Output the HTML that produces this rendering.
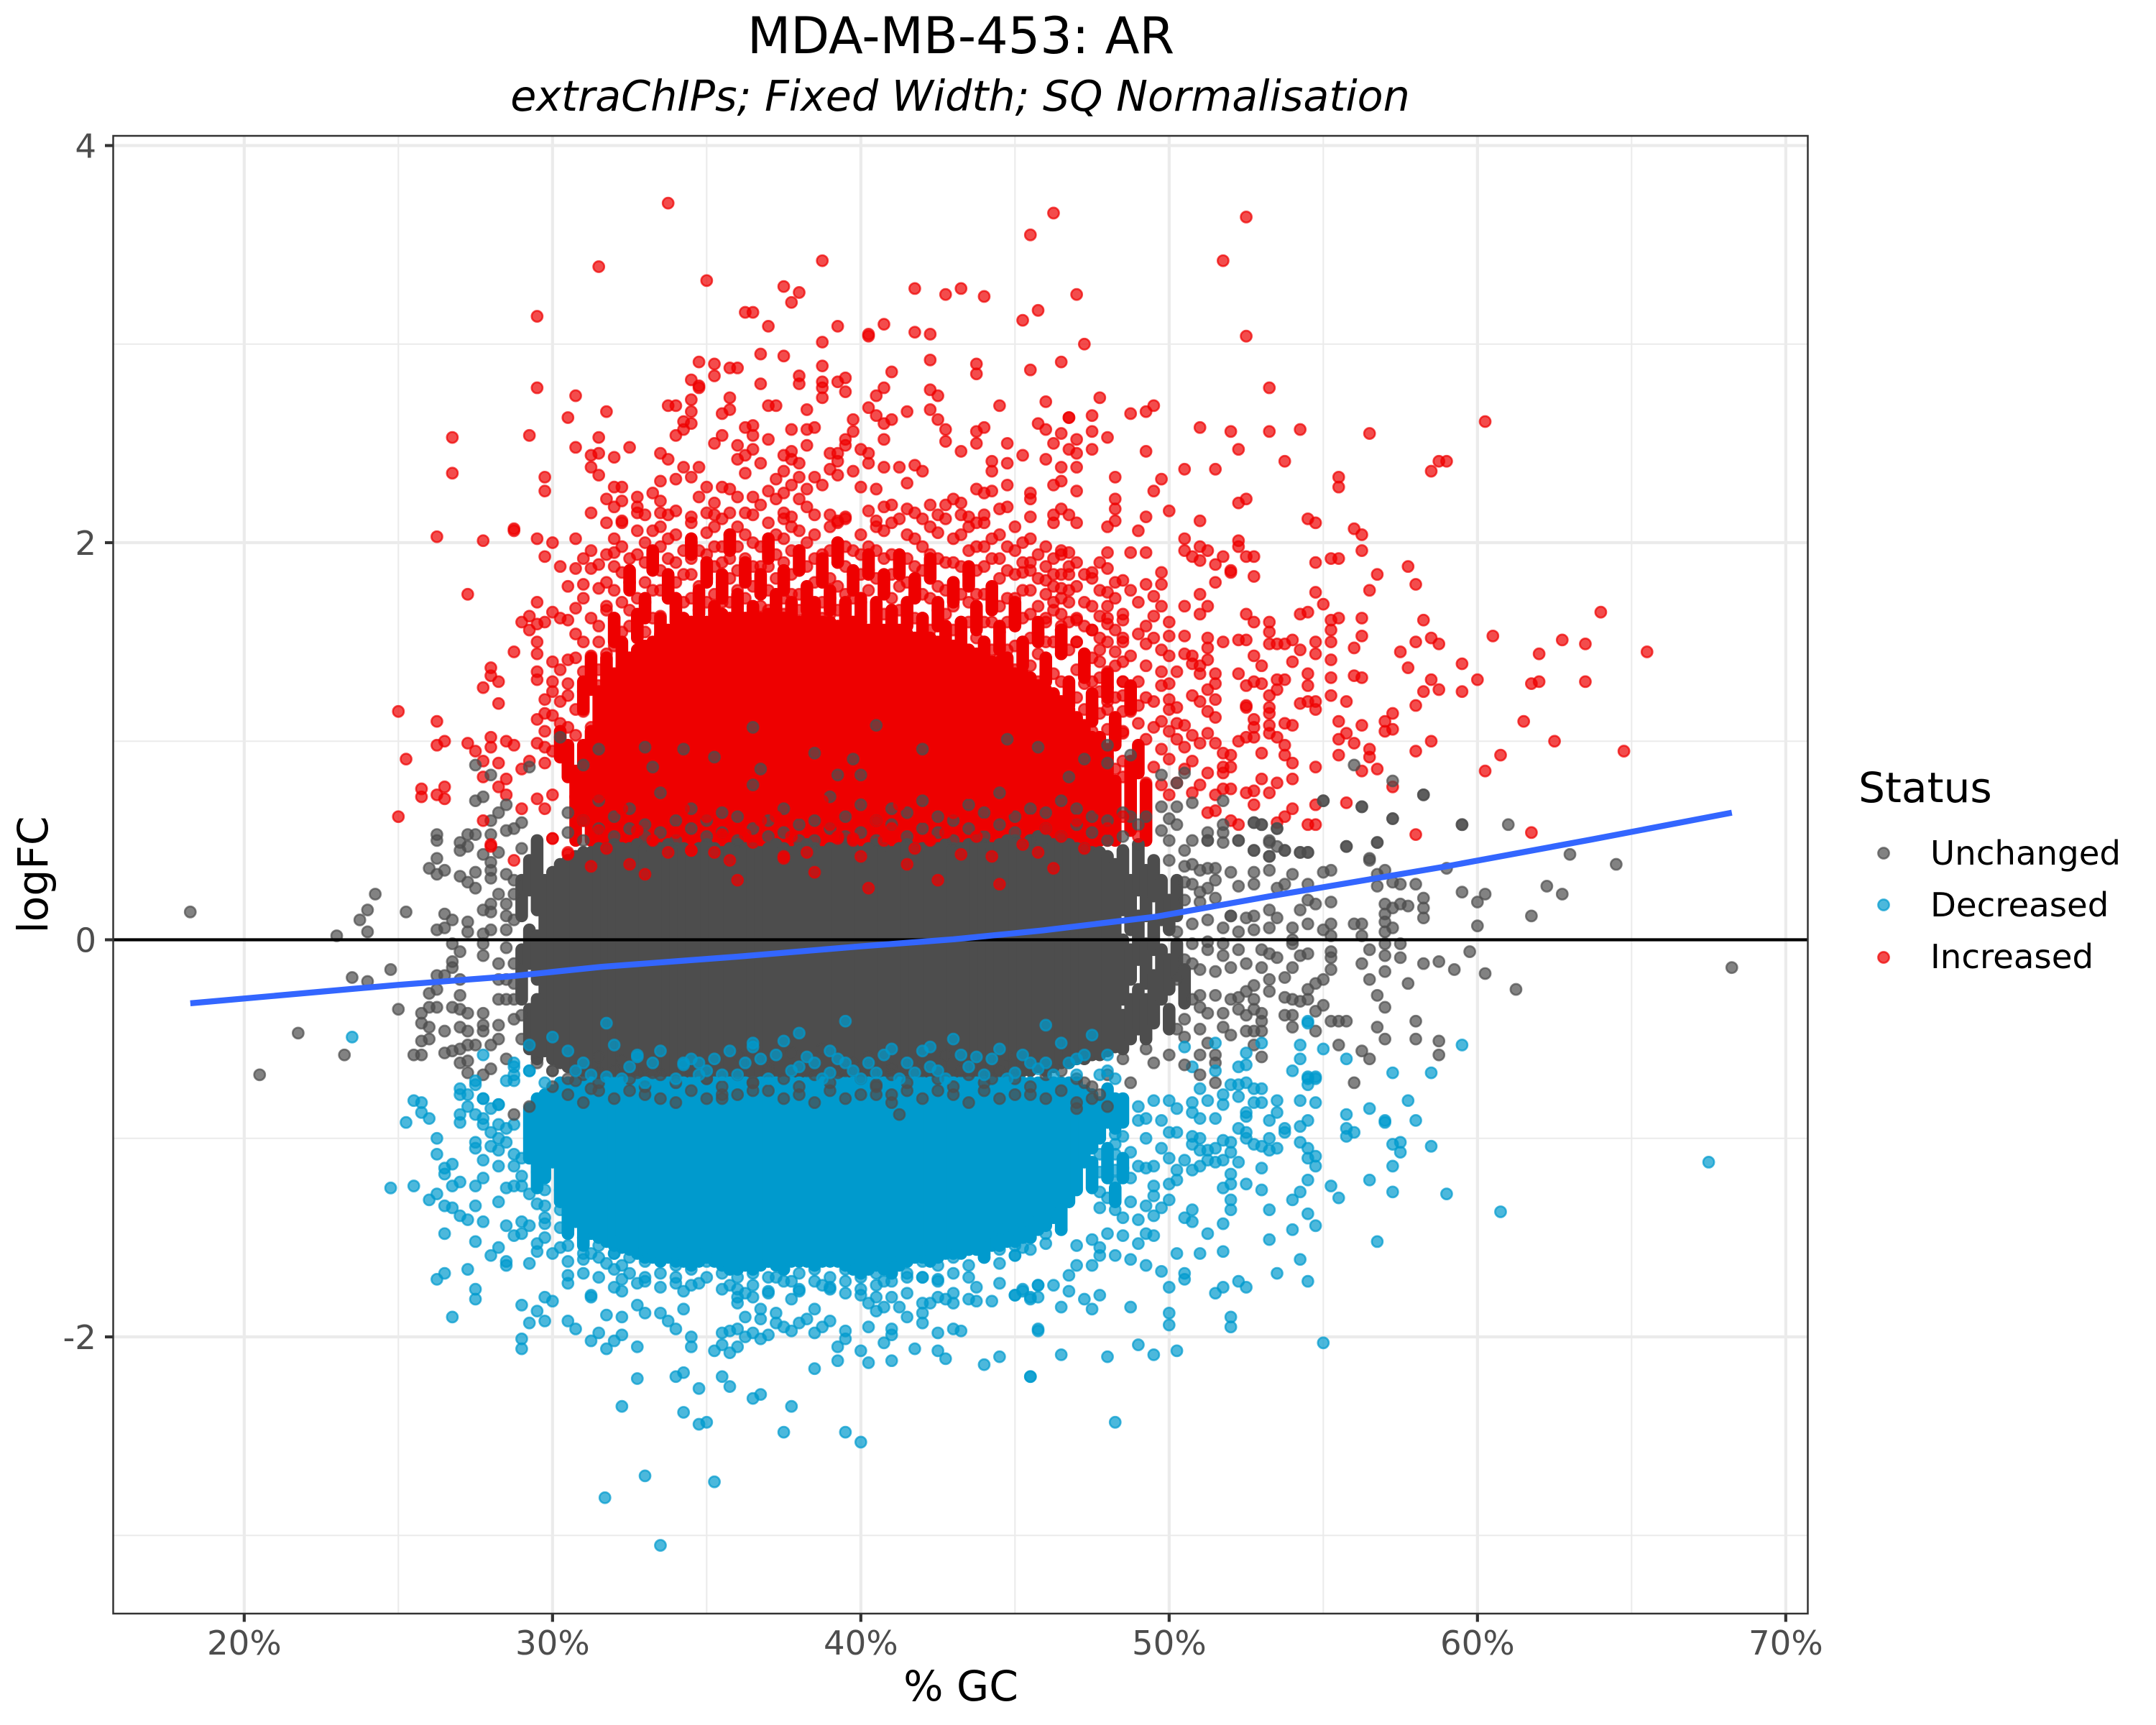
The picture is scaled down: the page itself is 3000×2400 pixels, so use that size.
<!DOCTYPE html>
<html lang="en">
<head>
<meta charset="utf-8">
<title>MDA-MB-453: AR</title>
<style>
html,body{margin:0;padding:0;background:#fff;}
svg{display:block;font-family:"DejaVu Sans","Liberation Sans",sans-serif;}
</style>
</head>
<body>
<svg id="chart" xmlns="http://www.w3.org/2000/svg" width="3000" height="2400" viewBox="0 0 3000 2400">
<rect x="0" y="0" width="3000" height="2400" fill="#fff"/>
<text x="1337" y="74" font-size="70" text-anchor="middle" fill="#000">MDA-MB-453: AR</text>
<text x="1336" y="154" font-size="58.7" font-style="italic" text-anchor="middle" fill="#000">extraChIPs; Fixed Width; SQ Normalisation</text>
<g id="grid"></g>
<g id="marks"></g>
<g id="overlay"></g>
<rect x="157.5" y="189" width="2358" height="2056" fill="none" stroke="#333333" stroke-width="2.5"/>
<g id="axes"></g>
<text x="1337" y="2366" font-size="58.3" text-anchor="middle" fill="#000">% GC</text>
<text transform="translate(66,1217) rotate(-90)" font-size="58.3" text-anchor="middle" fill="#000">logFC</text>
<g>
<text x="2586" y="1116" font-size="58.3" fill="#000">Status</text>
<circle cx="2621" cy="1187" r="7.6" fill="#4D4D4D" fill-opacity=".7" stroke="#4D4D4D" stroke-opacity=".7" stroke-width="2.6"/>
<text x="2686" y="1203" font-size="46.67" fill="#000">Unchanged</text>
<circle cx="2621" cy="1259" r="7.6" fill="#009ACD" fill-opacity=".7" stroke="#009ACD" stroke-opacity=".7" stroke-width="2.6"/>
<text x="2686" y="1275" font-size="46.67" fill="#000">Decreased</text>
<circle cx="2621" cy="1332" r="7.6" fill="#EE0000" fill-opacity=".7" stroke="#EE0000" stroke-opacity=".7" stroke-width="2.6"/>
<text x="2686" y="1347" font-size="46.67" fill="#000">Increased</text>
</g>
</svg>
<script>
/* ---------- axis data ---------- */
const xMajorTicks=[20,30,40,50,60,70];
const xTickLabels=["20%","30%","40%","50%","60%","70%"];
const xMinorTicks=[25,35,45,55,65];
const yMajorTicks=[4,2,0,-2];
const yTickLabels=["4","2","0","-2"];
const yMinorTicks=[3,1,-1,-3];

/* ---------- smooth trend ---------- */
const smoothGC=[18.25,25,28.65,31.6,36,40,43,45.9,49.6,53.3,59,63.7,68.25];
const smoothLogFC=[-0.32,-0.227,-0.184,-0.136,-0.085,-0.033,0.002,0.047,0.117,0.22,0.37,0.505,0.64];

/* ---------- saturated overplotted bands: one GC column every 0.25%, upper and lower logFC ---------- */
const increasedBandGC=[31.5,31.75,32,32.25,32.5,32.75,33,33.25,33.5,33.75,34,34.25,34.5,34.75,35,35.25,35.5,35.75,36,36.25,36.5,36.75,37,37.25,37.5,37.75,38,38.25,38.5,38.75,39,39.25,39.5,39.75,40,40.25,40.5,40.75,41,41.25,41.5,41.75,42,42.25,42.5,42.75,43,43.25,43.5,43.75,44,44.25,44.5,44.75,45,45.25,45.5,45.75,46,46.25,46.5,46.75,47,47.25,47.5];
const increasedBandTop=[1.25,1.30,1.34,1.38,1.42,1.46,1.48,1.50,1.54,1.56,1.56,1.58,1.60,1.62,1.60,1.62,1.64,1.62,1.64,1.62,1.60,1.62,1.64,1.62,1.62,1.60,1.60,1.62,1.62,1.60,1.60,1.58,1.60,1.60,1.58,1.56,1.58,1.56,1.54,1.56,1.54,1.52,1.54,1.52,1.50,1.50,1.48,1.46,1.46,1.44,1.42,1.40,1.40,1.38,1.34,1.34,1.30,1.28,1.26,1.22,1.20,1.16,1.12,1.08,1.02];
const increasedBandFloor=[.42];

const unchangedBandGC=[29.75,30,30.25,30.5,30.75,31,31.25,31.5,31.75,32,32.25,32.5,32.75,33,33.25,33.5,33.75,34,34.25,34.5,34.75,35,35.25,35.5,35.75,36,36.25,36.5,36.75,37,37.25,37.5,37.75,38,38.25,38.5,38.75,39,39.25,39.5,39.75,40,40.25,40.5,40.75,41,41.25,41.5,41.75,42,42.25,42.5,42.75,43,43.25,43.5,43.75,44,44.25,44.5,44.75,45,45.25,45.5,45.75,46,46.25,46.5,46.75,47,47.25,47.5,47.75,48,48.25];
const unchangedBandTop=[.30,.34,.38,.40,.42,.44,.44,.46,.46,.48,.46,.46,.48,.46,.44,.46,.48,.46,.46,.44,.46,.48,.46,.44,.46,.48,.46,.46,.44,.46,.48,.46,.44,.46,.48,.46,.44,.46,.46,.48,.46,.44,.46,.48,.46,.44,.46,.48,.46,.46,.44,.46,.48,.46,.46,.48,.50,.48,.46,.48,.50,.50,.48,.50,.52,.50,.48,.50,.48,.46,.46,.44,.44,.42,.38];
const unchangedBandBottom=[-.56,-.60,-.62,-.64,-.66,-.66,-.68,-.68,-.70,-.68,-.70,-.72,-.70,-.70,-.72,-.70,-.68,-.70,-.72,-.70,-.70,-.68,-.70,-.72,-.70,-.70,-.68,-.70,-.72,-.70,-.68,-.70,-.72,-.70,-.68,-.70,-.72,-.70,-.70,-.68,-.70,-.72,-.70,-.68,-.70,-.72,-.70,-.68,-.70,-.70,-.68,-.70,-.72,-.70,-.68,-.70,-.68,-.68,-.70,-.68,-.66,-.68,-.66,-.66,-.64,-.66,-.64,-.62,-.62,-.60,-.60,-.58,-.58,-.56,-.54];

const decreasedBandGC=[30.25,30.5,30.75,31,31.25,31.5,31.75,32,32.25,32.5,32.75,33,33.25,33.5,33.75,34,34.25,34.5,34.75,35,35.25,35.5,35.75,36,36.25,36.5,36.75,37,37.25,37.5,37.75,38,38.25,38.5,38.75,39,39.25,39.5,39.75,40,40.25,40.5,40.75,41,41.25,41.5,41.75,42,42.25,42.5,42.75,43,43.25,43.5,43.75,44,44.25,44.5,44.75,45,45.25,45.5,45.75,46,46.25,46.5,46.75,47];
const decreasedBandBottom=[-1.32,-1.38,-1.42,-1.46,-1.48,-1.50,-1.52,-1.54,-1.55,-1.56,-1.58,-1.60,-1.60,-1.62,-1.60,-1.62,-1.62,-1.64,-1.62,-1.60,-1.62,-1.64,-1.66,-1.66,-1.64,-1.66,-1.64,-1.62,-1.64,-1.66,-1.62,-1.62,-1.62,-1.64,-1.62,-1.62,-1.62,-1.64,-1.66,-1.68,-1.66,-1.64,-1.66,-1.68,-1.64,-1.62,-1.60,-1.60,-1.62,-1.60,-1.58,-1.58,-1.58,-1.56,-1.56,-1.54,-1.54,-1.54,-1.52,-1.52,-1.50,-1.48,-1.46,-1.44,-1.40,-1.36,-1.32,-1.26];
const decreasedBandCeiling=[-.72];

/* ---------- short overplotted runs: [GC, upper logFC, lower logFC] ---------- */
const increasedRuns=[[31.75,1.42,1.3],[32,1.62,1.5],[32.25,1.5,1.38],[32.5,1.86,1.76],[32.75,1.64,1.52],[33,1.72,1.62],[33.25,1.96,1.86],[33.5,1.62,1.5],[33.75,1.84,1.72],[34,1.72,1.6],[34.25,1.62,1.5],[34.5,2.02,1.94],[34.75,1.76,1.64],[35,1.9,1.8],[35.25,1.68,1.58],[35.5,1.84,1.72],[35.75,2.04,1.96],[36,1.74,1.62],[36.25,1.9,1.8],[36.5,1.68,1.58],[36.75,1.84,1.74],[37,2.02,1.92],[37.25,1.74,1.62],[37.5,1.86,1.76],[37.75,1.7,1.6],[38,1.96,1.86],[38.25,1.78,1.66],[38.5,1.7,1.6],[38.75,1.92,1.8],[39,1.76,1.66],[39.25,2,1.9],[39.5,1.7,1.6],[39.75,1.86,1.76],[40,1.72,1.6],[40.25,1.94,1.84],[40.5,1.7,1.58],[40.75,1.84,1.74],[41,1.66,1.56],[41.25,1.94,1.84],[41.5,1.7,1.58],[41.75,1.82,1.72],[42,1.62,1.5],[42.25,1.92,1.82],[42.5,1.7,1.58],[42.75,1.58,1.46],[43,1.8,1.7],[43.25,1.6,1.48],[43.5,1.88,1.78],[43.75,1.68,1.56],[44,1.5,1.38],[44.25,1.78,1.66],[44.5,1.58,1.46],[44.75,1.42,1.3],[45,1.7,1.58],[45.25,1.5,1.38],[45.5,1.32,1.2],[45.75,1.6,1.5],[46,1.42,1.3],[46.25,1.24,1.12],[46.5,1.56,1.44],[46.75,1.3,1.18],[47,1.1,.98],[47.25,1.44,1.32],[47.5,1.24,1.1],[47.75,1.02,.5],[48,1.34,1.22],[48,.96,.5],[48.25,1.12,.98],[48.25,.8,.5],[48.75,1.28,1.16],[48.75,.9,.55],[49,.98,.84],[49.25,.78,.5],[31.25,1.42,1.26],[31,1.3,1.16],[30.5,.98,.82],[31.25,1.05,.5],[30.75,.85,.5],[30.25,1.05,.92],[31,.98,.6]];

const unchangedRuns=[[29,.3,.12],[29,-.05,-.3],[29.25,.4,.25],[29.25,.05,-.12],[29.25,-.35,-.55],[29.5,.5,.15],[29.5,.02,-.2],[29.5,-.3,-.6],[48.5,.45,.15],[48.5,0,-.3],[48.5,-.38,-.55],[48.75,.3,.05],[48.75,-.05,-.2],[48.75,-.3,-.5],[49,.48,.25],[49,.12,-.1],[49,-.25,-.45],[49.25,.35,.12],[49.25,-.02,-.22],[49.25,-.3,-.5],[49.5,.4,.22],[49.5,.08,-.05],[49.5,-.18,-.42],[49.75,.3,.1],[49.75,-.05,-.3],[50,.2,.05],[50,-.1,-.25],[50,-.35,-.45],[50.25,.3,.12],[50.25,-.02,-.18],[50.5,-.15,-.32]];

const decreasedRuns=[[29.25,-.85,-1.1],[29.5,-.8,-1.05],[29.5,-1.1,-1.25],[29.75,-.78,-1.2],[30,-.76,-1.12],[47.25,-.76,-1.12],[47.5,-.78,-1.05],[47.5,-1.12,-1.25],[47.75,-.82,-1],[48,-.75,-.92],[48,-1.05,-1.2],[48.25,-.8,-.95],[48.25,-1.25,-1.32],[48.5,-.8,-.92],[48.5,-1.1,-1.2],[30.5,-1.36,-1.48],[31,-1.46,-1.54],[46.5,-1.36,-1.46],[45.5,-1.42,-1.5],[44,-1.5,-1.6]];

/* ---------- individually read points: [GC, logFC] ---------- */
const increasedUpperLeft=[[33.75,3.71],[31.5,3.39],[35,3.32],[29.5,3.14],[38.75,3.42],[37.5,3.29],[38,3.26],[37.75,3.21],[36.25,3.16],[36.5,3.16],[37,3.09],[39.25,3.09],[38.75,3.01],[40.25,3.04],[40.25,3.05],[40.75,3.1],[41.75,3.28],[42.75,3.25],[43.25,3.28],[44,3.24],[46.25,3.66],[45.5,3.55],[41.75,3.06],[42.25,3.05],[45.25,3.12],[45.75,3.17],[42.25,2.92],[43.75,2.9],[43.75,2.85],[45.5,2.87],[46.5,2.91],
[29.5,2.78],[30.75,2.74],[31.75,2.66],[30.5,2.63],[26.75,2.53],[29.25,2.54],[31.5,2.53],[30.75,2.48],[32.5,2.48],[31.5,2.45],[31.25,2.44],[32,2.43],[31.25,2.38],[31.5,2.34],[26.75,2.35],[29.75,2.33],[29.75,2.26],[34.75,2.91],[35.25,2.9],[35.75,2.88],[36,2.88],[35.25,2.84],[34.5,2.82],[34.75,2.78],[34.75,2.79],[34.5,2.72],[33.75,2.69],[34,2.69],[34.5,2.66],[34.25,2.61],[34.5,2.6],[34.25,2.57],[34,2.54],[35.75,2.73],[35.75,2.67],[35.5,2.65],[36.75,2.95],[37.5,2.94],[36.75,2.8],[38,2.84],[38,2.8],[38.75,2.89],[38.75,2.81],[38.75,2.78],[38.75,2.73],[39.25,2.81],[39.5,2.83],[39.5,2.76],[41,2.86],[40.75,2.78],[40.5,2.74],[40.25,2.68],[40.5,2.64],[40.75,2.6],[41,2.62],[41.5,2.66],[42.25,2.77],[42.5,2.74],[42.25,2.67],[42.5,2.62],[42.75,2.57],[42.75,2.51],[44.5,2.69],[46,2.71],[43.75,2.56],[44,2.58],[43.75,2.5],[44.75,2.5],[45.75,2.6],[46,2.57],[46.5,2.55],[46.75,2.63],[37,2.69],[37.25,2.69],[38.25,2.67],[36.25,2.58],[36.5,2.59],[36.5,2.54],[37.75,2.57],[38.25,2.57],[38.5,2.58],[37,2.52],[35.5,2.54],[35.25,2.5],[36,2.49],[36.5,2.47],[38.25,2.49],[39.75,2.62],[39.75,2.56],[39.5,2.52],[39.5,2.49],[40.75,2.52],[40,2.47],[40.25,2.45],[39,2.45],[39.25,2.45],[37.75,2.46],[37.5,2.44],[37.75,2.42],[36.25,2.44],[36,2.42],[36.75,2.4],[38,2.4],[39.25,2.41],[40.25,2.4],[40.75,2.38],[41.25,2.38],[41.75,2.39],[42,2.36],[43.25,2.46],[44.25,2.41],[44.75,2.4],[45.25,2.44],[46,2.42],[33.5,2.45],[33.75,2.42],[34.75,2.38],[34.25,2.38],[34.5,2.33],[34,2.32],[33.5,2.31],[36.25,2.35],[37.5,2.36],[37.25,2.32],[38,2.33],[38.5,2.33],[37.75,2.29],[38.75,2.29],[38.25,2.27],[39,2.37],[39.75,2.36],[39.25,2.34],[40,2.28],[40.5,2.27],[41.5,2.3],[43.75,2.27],[44.25,2.36],[44.75,2.29],[44.25,2.26],[45.5,2.25],[44,2.25],[46.25,2.29],[32,2.28],[32.25,2.28],[33.25,2.25],[32.75,2.23],[35,2.28],[35.5,2.28],[35.75,2.27],[34.75,2.23],[35.25,2.2],[36,2.23],[36.5,2.23],[37,2.26],[37.5,2.25],[38,2.22],[38.25,2.18],[31.75,2.22],[32.25,2.21],[32.75,2.18],[33.5,2.21],[32,2.18],[31.25,2.15],[32.75,2.15],[33.5,2.15],[34.5,2.13],[33.75,2.14],[31.75,2.1],[32.25,2.11],[35.25,2.14],[35.75,2.15],[36.25,2.15],[36.75,2.19],[37.25,2.22],[37.5,2.15],[37.75,2.13],[39,2.14],[39.5,2.13],[40.25,2.16],[40.75,2.18],[41,2.19],[41.5,2.17],[42.25,2.19],[42.75,2.19],[43,2.22],[43.25,2.2],[41.75,2.15],[42.5,2.14],[43.25,2.14],[43.5,2.13],[44.5,2.17],[44.75,2.18],[44,2.1],[45.5,2.13],[46.5,2.17],[46.75,2.14],[40.5,2.11],[39.25,2.11],[28.75,2.07]];

const increasedUpperRight=[[52.5,3.64],[51.75,3.42],[47,3.25],[52.5,3.04],[47.25,3],[53.25,2.78],[47.75,2.73],[49.5,2.69],[49.25,2.66],[48.75,2.65],[46.75,2.63],[47.5,2.64],[51,2.58],[52,2.56],[53.25,2.56],[54.25,2.57],[56.5,2.55],[60.25,2.61],[47.5,2.56],[48,2.53],[47,2.52],[46.25,2.5],[46.75,2.47],[47,2.45],[47.5,2.47],[49.25,2.46],[52.25,2.47],[53.75,2.41],[50.5,2.37],[51.5,2.37],[47,2.38],[46.5,2.38],[48.25,2.33],[49.75,2.32],[49.5,2.26],[47,2.26],[46.5,2.31],[55.5,2.33],[55.5,2.28],[58.5,2.36],[58.75,2.41],[59,2.41],[52.5,2.22],[52.25,2.2],[45.5,2.22],[48.25,2.22],[48.25,2.17],[50,2.16],[49.25,2.13],[48.25,2.11],[51,2.11],[54.5,2.12],[54.75,2.1],[46.25,2.14],[47,2.1],[48,2.08],[46.25,2.1],
[49,2.06],[50.5,2.02],[52.25,2.01],[52.25,1.98],[50.5,1.96],[51,1.98],[51.25,1.96],[50.75,1.93],[51,1.91],[51.5,1.89],[51.75,1.93],[52.5,1.93],[52.75,1.93],[52,1.85],[52,1.86],[52.75,1.83],[51.5,1.8],[54.75,1.9],[55.25,1.92],[55.5,1.92],[56,2.07],[56.25,2.04],[56.25,1.96],[57.75,1.88],[56.75,1.84],[58,1.79],[56.5,1.76],[54.75,1.75],[55,1.69],[51,1.74],[50.5,1.68],[51.25,1.68],[51,1.64],[52.5,1.64],[52.75,1.6],[54.25,1.64],[54.5,1.65],[55.25,1.61],[55.5,1.62],[56.25,1.62],[58.25,1.61],[53.25,1.6],[53.25,1.55],[64,1.65],[55.25,1.56],[56.25,1.53],[60.5,1.53],[62.75,1.51],[63.5,1.49],[65.5,1.45],[58.5,1.52],[58.75,1.49],[58,1.5],[62,1.44],[57.5,1.45],[56,1.47],[55.25,1.5],[54.75,1.5],[54.75,1.44],[55.25,1.41],[54,1.51],[53.75,1.49],[53.5,1.49],[53.25,1.49],[54.25,1.46],[54,1.4],[52.75,1.43],[53,1.38],[52.5,1.51],[52.25,1.51],[51.75,1.5],[51.25,1.52],[51.25,1.47],[51.25,1.41],[50.5,1.53],[50.5,1.44],[50.75,1.43],[50.75,1.39],[51,1.38],[51,1.34],[51.5,1.34],[51.5,1.29],[57.75,1.37],[59.5,1.39],[58.5,1.31],[58.75,1.26],[58.25,1.25],[59.5,1.25],[60,1.31],[61.75,1.29],[62,1.3],[63.5,1.3],[58,1.18],[57.25,1.14],[57,1.1],[57.25,1.06],[57,1.05],[56.25,1.08],[55.5,1.1],[55.75,1.2],[55.25,1.23],[55.25,1.32],[56,1.33],[56.25,1.32],[54.5,1.34],[54.5,1.28],[53.5,1.31],[53.75,1.31],[52.5,1.28],[52.75,1.3],[53,1.29],[52.25,1.34],[53.5,1.26],[53.25,1.23],[53.25,1.17],[52.5,1.17],[52.5,1.18],[54.25,1.19],[54.5,1.2],[54.75,1.2],[54.75,1.16],[51.25,1.26],[50.75,1.23],[51.5,1.21],[51,1.2],[51.25,1.15],[51.5,1.12],[53.25,1.14],[52.75,1.11],[52.75,1.07],[53.25,1.08],[53.75,1.09],[54,1.08],[55.75,1.04],[55.5,1.01],[56,.99],[56.5,.96],[56.5,.92],[55.5,.93],[56.75,.86],[56.25,.85],[58,.95],[58.5,1],[61.5,1.1],[62.5,1],[64.75,.95],[60.75,.93],[60.25,.85],[57.25,.77],[55.75,.69],[54.75,.68],[54,.66],[53.75,.62],[53.5,.59],[54.5,.58],[54.75,.58],[58,.53],[61.75,.54],[53,.81],[53.5,.79],[54,.81],[54,.89],[54.75,.87],[53.75,.93],[53.75,.98],[53.5,1.02],[53,.94],[52,.93],[51.75,.94],[52,.87],[51.75,.87],[51.75,.84],[51.25,.84],[51.5,.99],[51,.99],[51.25,1.04],[50.75,1.03],[52.25,1],[52.5,1.02],[52.75,1.02],[53.25,1.04],[52.75,.75],[52.5,.74],[53.25,.74],[52,.76],[51.75,.76],[51.5,.73],[51,.78],[50.75,.74],[52.75,.68],[51.5,.65],[51.25,.64],[52.25,.58],[52,.6]];

const increasedMidRight=[[49.75,1.85],[49.75,1.79],[49.25,1.79],[48.5,1.81],[48.25,1.8],[48.75,1.76],[49,1.7],[49.5,1.73],[49.75,1.68],[48,1.87],[47.5,1.85],[48.75,1.95],[49.25,1.95],[48,1.95],[46.75,1.95],[46.5,1.94],[46.75,1.88],[46.75,1.84],[46.25,1.84],[46,1.81],[46.5,1.77],[45.5,1.9],[45.25,1.85],[47.75,1.76],[48,1.68],[48.25,1.72],[48.5,1.64],[48.5,1.61],[49.5,1.63],[49.25,1.58],[50,1.6],[50,1.53],[49,1.54],[48.5,1.52],[48,1.59],[47.75,1.63],[47.25,1.7],[46.75,1.7],[46.25,1.7],[46.5,1.64],[46,1.6],[46.5,1.56],[47,1.61],[47.5,1.56],[47.75,1.52],[45.75,1.54],[47,1.5],[48.25,1.45],[48.75,1.43],[49.25,1.49],[49.5,1.52],[49.75,1.46],[50,1.43],[49.25,1.38],[48.5,1.4],[47.75,1.4],[47.25,1.38],[49.75,1.35],[50.25,1.35],[50,1.29],[49.75,1.28],[49,1.3],[48.5,1.3],[48,1.27],[47.25,1.29],[47.75,1.25],[48.5,1.23],[49.25,1.22],[49.5,1.2],[50,1.21],[50.25,1.17],[49,1.18],[50,1.16],[48.75,1.15],[48,1.16],[49,1.09],[49.75,1.1],[50.25,1.09],[50.5,1.08],[49.5,1.07],[50,1.05],[48.5,1.04],[50.25,1.01],[49.25,1.01],[49.75,.96],[50.5,.97],[50.75,.9],[50,.91],[50.5,.86],[49.5,.87],[49.25,.79],[49.75,.78],[50.25,.79],[50,.73]];

const increasedLeftEdge=[[26.25,2.03],[27.75,2.01],[28.75,2.06],[29.5,2.02],[30,2],[29.75,1.93],[30.75,2.02],[30.25,1.88],[30.75,1.87],[31,1.92],[31.25,1.96],[31.5,1.89],[31.25,1.87],[27.25,1.74],[30.5,1.78],[31,1.79],[29.5,1.7],[30.75,1.67],[31,1.72],[31.75,1.68],[31.5,1.77],[29,1.6],[29.25,1.63],[29.25,1.56],[29.5,1.59],[29.75,1.6],[30,1.65],[30.25,1.62],[30.5,1.61],[31.25,1.62],[30.75,1.54],[29.5,1.5],[31,1.5],[28.75,1.45],[29.5,1.44],[30,1.4],[30.5,1.41],[30.75,1.42],[30.25,1.36],[28,1.37],[28,1.33],[28.25,1.3],[27.75,1.27],[28.25,1.19],[29.5,1.35],[29.5,1.31],[30,1.3],[30.5,1.29],[31,1.35],[31.25,1.43],[31,1.25],[30.5,1.23],[30.25,1.2],[30,1.25],[29.75,1.21],[25,1.15],[26.25,1.1],[26.25,.98],[26.5,1],[25.25,.91],[27.25,.99],[27.5,.95],[28,1.02],[28,.97],[28.5,1],[28.75,.98],[29.5,.99],[29.75,.97],[30,.95],[29.5,1.11],[29.75,1.14],[30,1.13],[30.75,1.16],[31,1.15],[30.25,1.09],[30.5,1.07],[29.75,1.05],[31.25,1.07],[30.75,1.03],[30.25,.92],[30.5,.88],[29.75,.89],[29.25,.9],[29,.86],[28.5,.81],[28.25,.89],[27.75,.9],[27.75,.82],[28.25,.77],[28.5,.73],[25.75,.76],[25.75,.72],[26.25,.73],[26.5,.77],[26.5,.71],[25,.62],[29,.66],[29.5,.71],[29.75,.66],[30,.73],[30.75,.82],[31.25,.82],[30.75,.72],[31.25,.68]];

/* semi-dense red cloud read column by column */
const increasedStackGC=[31.5,32,32.25,32.5,32.75,33,33.5,33.75,34,34.5,34.75,35,35.5,36,36.25,36.5,37,37.25,37.5,38,38.25,38.5,39,39.5,40,40.25,40.5,41,41.5,42,42.5,43,43.5,44,44.5,45,45.5,46,46.5,47,47.5,48,48.5];
const increasedStackLogFC=[[1.58,1.5,1.36,1.28],[2.02,1.95,1.88,1.76,1.62,1.48],[2.1,1.98,1.85,1.7,1.55],[1.92,1.8,1.66,1.58],[2.06,1.94,1.72,1.6],[2.14,2,1.9,1.8,1.7,1.55],[2.08,1.98,1.86,1.76,1.63],[2.02,1.92,1.72],[2.16,2.04,1.9,1.8,1.68,1.58],[2.1,2,1.92,1.84,1.72,1.6],[1.96,1.78,1.66],[2.15,2.05,1.94,1.82,1.7],[2.12,1.98,1.9,1.8,1.7,1.64],[2.08,1.98,1.86,1.76,1.68],[2.04,1.92,1.82,1.72],[2.14,2,1.88,1.78],[2.1,1.98,1.88,1.76,1.66],[2.04,1.94,1.82],[2.12,2.02,1.9,1.72,1.64],[2.06,1.96,1.86,1.74,1.66],[2,1.88,1.76],[2.14,2.04,1.92,1.8,1.68],[2.08,1.96,1.82,1.72,1.64],[2.12,1.98,1.88,1.74,1.62],[2.04,1.94,1.84,1.7,1.6],[1.98,1.86,1.76],[2.08,1.96,1.82,1.66,1.56],[2.1,1.94,1.84,1.72,1.58],[2.04,1.92,1.8,1.68,1.54],[2.12,1.98,1.86,1.74,1.62,1.52],[2.05,1.92,1.78,1.66,1.46],[2.02,1.9,1.8,1.68,1.56,1.42],[2.08,1.96,1.84,1.7,1.6,1.44],[2.14,1.98,1.88,1.74,1.6,1.5,1.38],[2.04,1.92,1.82,1.68,1.55,1.42,1.32],[2.08,1.96,1.84,1.72,1.6,1.48,1.36,1.26],[2.02,1.86,1.76,1.64,1.52,1.38,1.28],[1.98,1.88,1.74,1.62,1.5,1.36,1.22],[1.96,1.84,1.72,1.58,1.44,1.3,1.2,1.1],[1.9,1.78,1.62,1.5,1.36,1.22,1.1,1],[1.82,1.68,1.56,1.42,1.3,1.18,1.05,.95],[1.75,1.62,1.5,1.35,1.2,1.06,.92],[1.5,1.3,1.15,1.05,.9,.82]];
const increasedInfillGC=[31.75,33.25,34.25,35.25,35.75,36.75,37.75,38.75,39.25,39.75,40.75,41.25,41.75,42.25,42.75,43.25,43.75,44.25,44.75,45.25,45.75,46.25,46.75,47.25,47.75,48.25];
const increasedInfillLogFC=[[1.94,1.8,1.66,1.44],[2.06,1.94,1.76,1.62],[1.96,1.84,1.7,1.6],[2.08,1.98,1.88,1.74,1.66],[2.04,1.92,1.82,1.7],[1.98,1.88,1.76,1.68],[2.08,1.96,1.84,1.74],[1.94,1.82,1.7,1.62],[2.1,2,1.9,1.78,1.66],[1.96,1.84,1.72,1.6],[2.06,1.92,1.82,1.64],[2.12,1.9,1.78,1.66],[2.02,1.88,1.74,1.62],[2.08,1.94,1.72,1.56],[2.12,1.9,1.76,1.64,1.5],[2.04,1.88,1.74,1.6,1.46],[2.1,1.98,1.86,1.74,1.52],[2.02,1.92,1.6,1.46,1.34],[1.98,1.86,1.72,1.6,1.46,1.3],[2,1.9,1.76,1.62,1.5,1.32,1.2],[1.94,1.82,1.68,1.44,1.3,1.16],[1.92,1.78,1.66,1.5,1.34,1.14,1.04],[1.76,1.6,1.46,1.24,1.02,.9],[1.84,1.58,1.44,1.16,.96,.84],[1.9,1.46,1.32,1.14,.98,.8],[1.56,1.38,1.22,1,.86]];

const unchangedLeftEdge=[[18.25,.14],[24.25,.23],[24,.15],[23.75,.1],[24,.04],[23,.02],[25.25,.14],[26.5,.13],[26.75,.1],[27.25,.09],[26.5,.06],[26.25,.05],[27.25,.04],[27.75,.03],[26.75,-.02],[27,-.06],[27.75,-.02],[27.75,-.08],[26.75,-.11],[26.75,-.14],[24.75,-.15],[23.5,-.19],[24,-.21],[26.25,-.18],[26.5,-.18],[27,-.2],[26.25,-.25],[26,-.27],[27,-.28],[25,-.35],[26,-.34],[26.25,-.34],[26.75,-.34],[25.75,-.37],[25.75,-.42],[26,-.44],[27,-.35],[27.25,-.37],[27,-.44],[27.25,-.46],[26.5,-.46],[26,-.5],[25.75,-.51],[21.75,-.47],[23.25,-.58],[20.5,-.68],[25.5,-.58],[25.75,-.58],[26.5,-.57],[26.75,-.56],[27,-.55],[27.25,-.53],[27.5,-.53],[27,-.62],[27.25,-.61],[27.25,-.67],[27.75,-.68],[28,-.65],[28,-.53],[27.75,-.46],[27.75,-.43],[28.25,-.43],[27.75,-.37],[28.25,-.3],[28.5,-.2],[28.25,-.12],[28.5,-.04],[28.75,-.4],[28.75,-.12],[28.25,-.5],[28.5,-.6],
[26.25,.53],[26.25,.5],[27,.49],[27,.45],[27.25,.47],[26.25,.41],[26,.36],[26.25,.33],[26.5,.35],[27,.32],[27.25,.29],[27.5,.34],[27.5,.26],[27.25,.53],[27.5,.53],[27.75,.43],[28,.53],[28.25,.44],[28,.39],[28.5,.55],[28.75,.56],[28.25,.64],[28.5,.68],[28,.6],[27.5,.7],[27.75,.72],[29,.59],[29,.46],[28,.35],[28,.31],[28.5,.33],[28.25,.23],[28,.18],[27.75,.15],[28,.14],[28.5,.18],[28.75,.23],[28.5,.12],[28.5,.05],[28.75,.3],[28.75,.1],[29,-.38],[29,-.5],[28.75,-.22],[28.75,-.3],[28.5,-.3],[28,.05],[28.25,-.2]];

const unchangedRightEdge=[[58.25,.73],[57.25,.61],[59.5,.58],[61,.58],[56.25,.67],[55,.7],[63,.43],[64.5,.38],[59,.36],[56.75,.49],[55.75,.47],[56.5,.4],[57,.35],[56.75,.33],[57.25,.29],[57.5,.28],[58,.28],[56.75,.27],[62.25,.27],[62.75,.23],[59.5,.24],[60.25,.23],[60,.19],[58.25,.21],[58.25,.16],[58.25,.11],[61.75,.12],[60,.07],[57,.18],[57.25,.16],[57.5,.18],[57.75,.17],[57,.13],[57,.09],[57.25,.06],[57,.04],[56,.08],[56.25,.08],[56.25,.02],[55.25,.08],[55,.05],[55.25,.02],[54.5,.08],[55.25,.19],[54.75,.18],[54.5,.2],[54.25,.15],[55,.34],[55.25,.35],[54.5,.28],[54,.33],[53.75,.28],[53.5,.26],[53.25,.35],[52.75,.34],[52,.34],[53.25,.42],[53.75,.45],[54.25,.44],[54.5,.44],[52.75,.45],[53.5,.47],[53.25,.5],[52.25,.5],[51.75,.49],[51.25,.5],[53.5,.56],[52.75,.59],[53,.58],[52.25,.27],[52.75,.28],[53.25,.15],[53.5,.11],[54,.06],[53.25,.06],[52.75,.05],[52.25,.04],[51.75,.06],[52.5,.11],[52.75,.12],[52,.12],[54,0],[55.25,-.06],[56.5,-.05],[57,-.02],[57.5,-.02],[57,-.08],[57.5,-.09],[55.25,-.09],[56.25,-.12],[58.25,-.12],[58.75,-.11],[59.75,-.06],[59.25,-.15],[60.25,-.17],[61.25,-.25],[68.25,-.14],[57.75,-.22],[56.5,-.2],[57,-.16],[55.25,-.15],[55,-.2],[54.75,-.22],[54.5,-.25],[56.75,-.28],[57,-.34],[58,-.41],[56.75,-.44],[57,-.5],[58,-.5],[58.75,-.51],[58.75,-.58],[56.25,-.56],[56.5,-.6],[55.5,-.53],[56,-.72],[55,-.33],[54.75,-.36],[55.25,-.41],[55.5,-.41],[55.75,-.41],[54.75,-.46],[54,-.44],[54,-.38],[53.75,-.38],[54,-.3],[54.25,-.31],[54.5,-.3],[53.75,-.29],[53.25,-.2],[53.75,-.19],[54,-.14],[53.5,-.09],[53.25,-.07],[54.5,-.07],[54.25,-.08],[54,-.02],[53,-.05],[53,-.14],[52.5,-.12],[52,-.14],[51.75,-.08],[52.25,-.05],[52.75,-.23],[53.25,-.26],[52.5,-.26],[52.25,-.29],[52,-.3],[52.75,-.3],[52.25,-.35],[51.75,-.37],[53,-.37],[52.75,-.35],[53,-.41],[52.5,-.38],[53,-.46],[52.75,-.46],[52.5,-.46],[52,-.48],[51.75,-.44],[52.75,-.53],[51.5,-.62],[51.5,-.58],[53,-.59],[51,-.58],[51.25,-.52],[50.5,-.49],[51.25,-.37],[51,-.34],[50.5,-.4],[51,-.28],[51.5,-.28],[51.5,-.16],[51,-.15],[50.75,-.12],[51.25,-.05],[50.75,-.02],[51.75,-.02],[51.25,-.01],
[51.5,.36],[51.25,.36],[51,.35],[50.5,.37],[50.75,.38],[51.5,.3],[51,.24],[51.25,.26],[50.5,.29],[50.75,.28],[50.5,.2],[51.5,.21],[51,.19],[52,.12],[51.25,.1],[50.75,.08],[50.25,.04],[50.25,-.2],[50.75,-.3],[50.5,-.1],[51,-.45],[50.25,-.45],[50,.4],[50,.5],[50.5,.45],[49.75,.55],[50.75,.5],[50.25,.58],
[49.75,.67],[50.25,.67],[50.75,.69],[51.75,.7],[49.25,.62],[50,.61],[56,.88],[57.25,.8],[58.25,.73],[55,.7],[56.25,.67],[57.25,.61],[59.5,.58],[55.75,.47],[56.75,.49],[56.5,.41],[52.75,.59],[53,.58],[53.5,.56],[51.75,.58],[51.25,.54],[51.75,.54],[52.25,.5],[51.25,.5],[53.25,.49],[53.75,.45],[54.25,.44],[54.5,.44],[52.75,.45],[53.25,.42]];

const unchangedOverRed=[[30.25,1.02],[27.5,.88],[28,.83],[29.25,.87],[31,.88],[31.5,.96],[36.5,1.07],[34.25,.96],[35.25,.92],[38.5,.94],[39.75,.91],[40.5,1.08],[42,.96],[44.75,1.01],[45.75,.97],[33,.97],[33.25,.87],[36.75,.86],[39.25,.83],[40,.83],[46.75,.82],[48,.98],[48.75,.93],[49.75,.83],[50.5,.84],[48,.89],[47.25,.91],[50.25,.79],[48.75,.62]];

/* grey over red mixing zone, by GC column */
const unchangedMixGC=[30.5,31,31.5,32,32.5,33,33.5,34,34.5,35,35.5,36,36.5,37,37.5,38,38.5,39,39.5,40,40.5,41,41.5,42,42.5,43,43.5,44,44.5,45,45.5,46,46.5,47,47.5,48,48.5,49];
const unchangedMixLogFC=[[.54,.64],[.5,.6],[.56,.7],[.52,.62],[.56,.66],[.58,.52],[.54,.74],[.5,.6],[.56,.66],[.52,.6],[.54,.64],[.5,.62],[.56,.78],[.52,.6],[.54,.66],[.58,.5],[.5,.6],[.56,.72],[.52,.62],[.54,.68],[.5,.6],[.58,.66],[.52,.64],[.56,.7],[.54,.62],[.5,.6],[.56,.68],[.52,.64],[.58,.74],[.54,.62],[.5,.66],[.56,.64],[.52,.7],[.58,.66],[.54,.62],[.5,.6],[.52,.64],[.48,.58]];

const increasedOverGray=[[28.75,.4],[28,.47],[27.75,.6],[30,.51],[30.5,.44],[31.25,.37],[32.5,.38],[33,.33],[34.5,.45],[35.25,.44],[36.5,.49],[35.5,.53],[37.5,.41],[39,.58],[39.25,.52],[37.25,.62],[32.75,.55],[31.5,.55],[39.75,.51],[36.25,.53],[28,.48],[30,.51],[30.5,.43],[34.5,.45],[35.5,.52],[39.25,.51],[41.5,.38],[42.75,.54],[43.25,.43],[45.25,.48],[44.5,.28],[37.5,.42],[39.75,.5],[33.5,.62],[34.25,.66],[38,.64],[40.5,.6],[41,.56],[42,.62],[44,.58],[46,.56],[47,.6],[48,.56],[49,.52],
[31,.6],[31.75,.46],[32.25,.66],[33.75,.44],[34,.54],[35,.62],[35.75,.4],[36.75,.6],[37.75,.52],[38.25,.44],[38.75,.7],[40,.42],[40.75,.5],[41.25,.68],[41.75,.46],[42.25,.5],[43,.64],[43.75,.52],[44.25,.42],[44.75,.66],[45.5,.6],[45.75,.44],[46.5,.52],[47.25,.46],[47.75,.66],[48.5,.62],[36,.3],[38.5,.34],[40.25,.26],[42.5,.3],[46.25,.36],[33.25,.5],[31.5,.72],[37,.72],[39.5,.72],[43.5,.74]];

const decreasedLowerLeft=[[24.75,-1.25],[25.5,-1.24],[25.25,-.92],[25.5,-.81],[25.75,-.82],[25.75,-.87],[26,-.9],[26.25,-1],[26.25,-1.08],[26.75,-1.13],[26.5,-1.15],[26.5,-1.18],[27,-1.22],[26.75,-1.24],[26.25,-1.28],[26,-1.31],[26.5,-1.34],[26.75,-1.35],[27,-1.39],[27.25,-1.41],[27.75,-1.42],[26.5,-1.48],[27.5,-1.52],[28.25,-1.55],[28,-1.59],[28.5,-1.62],[28.5,-1.64],[29.25,-1.63],[26.5,-1.68],[26.25,-1.71],[27.25,-1.66],[27.5,-1.76],[27.5,-1.81],[26.75,-1.9],[29,-1.84],[29.75,-1.8],[30,-1.82],[29.5,-1.87],[29.75,-1.92],[29.25,-1.93],[29,-2.01],[29,-2.06],[30.5,-1.92],[30.75,-1.96],[31.25,-2.02],[31.5,-1.98],[31.75,-2.06],[32,-2.02],[32.25,-1.99],[32.75,-2.05],[31.75,-1.89],[32.25,-1.9],[32.75,-1.84],[33,-1.88],[33.5,-1.88],[33.75,-1.92],[34,-1.96],[34.25,-1.86],[34.5,-2],[34.5,-2.05],[35.25,-2.07],[35.5,-2.04],[35.5,-1.98],[35.75,-1.97],[36,-1.96],[35.75,-2.08],[36,-2.05],[36.25,-2],[36.5,-1.98],[36.75,-2.01],[37,-1.99],[36.25,-1.9],[36.75,-1.91],[36.75,-1.86],[37.25,-1.88],[37.25,-1.93],[37.5,-1.95],[37.75,-1.97],[38,-1.93],[38.25,-1.91],[38.5,-1.86],[38.75,-1.95],[38.5,-1.98],[39,-1.92],[39.5,-1.97],[39.5,-2.01],[39.25,-2.05],[39.25,-2.12],[38.5,-2.16],[40,-2.07],[40.25,-2.13],[41,-2.12],[40.75,-2.03],[40.25,-1.95],[41,-1.96],[41,-1.99],[41.75,-2.06],[42.5,-1.98],[42.5,-2.07],[42.75,-2.11],[43,-1.96],[43.25,-1.97],[44.5,-2.1],[44,-2.14],[45.5,-2.2],[45.75,-1.96],[32.75,-2.21],[34,-2.2],[34.25,-2.18],[34.75,-2.26],[35.5,-2.2],[35.75,-2.25],[36.5,-2.31],[36.75,-2.29],
[31.7,-2.81],[33,-2.7],[33.5,-3.05],[35.25,-2.73],[32.25,-2.35],[34.25,-2.38],[34.75,-2.44],[35,-2.43],[37.5,-2.48],[37.75,-2.35],[39.5,-2.48],[40,-2.53],[48.25,-2.43]];

const decreasedLeftEdge=[[27,-.75],[27,-.78],[27.5,-.73],[27.25,-.78],[27.75,-.8],[27.25,-.84],[27.5,-.88],[27,-.88],[27,-.92],[27.75,-.9],[27.75,-.93],[28,-.85],[28.25,-.83],[28.25,-.93],[28.5,-.95],[28.75,-.93],[28,-.97],[28.25,-1],[28.5,-1.02],[27.5,-1.02],[27.5,-1.05],[28,-1.04],[28.25,-1.06],[28.75,-1.08],[27.75,-1.11],[28.25,-1.14],[28.75,-1.14],[29,-1.1],[29.25,-1.1],[29.5,-1.17],[29,-1.19],[27.75,-1.2],[27.5,-1.24],[28.5,-1.25],[28.75,-1.24],[29,-1.24],[29.25,-1.28],[29.75,-1.26],[30.25,-1.26],[28.25,-1.32],[27.5,-1.34],[29.5,-1.33],[29.75,-1.34],[30.25,-1.36],[29.75,-1.4],[28.5,-1.44],[29,-1.42],[29.25,-1.44],[29.75,-1.43],[28.75,-1.49],[29,-1.48],[29.75,-1.5],[29.5,-1.53],[30.25,-1.45],[30.25,-1.55],[29.5,-1.57],[30,-1.58],[30.5,-1.62],[31,-1.61],[31.25,-1.58],[31.75,-1.63],[32,-1.58],[32.25,-1.64],[30.5,-1.69],[31,-1.68],[30.5,-1.73],[31.5,-1.7],[31.25,-1.79],[31.25,-1.8],[32,-1.75],[32.25,-1.71],[32.25,-1.77],[32.75,-1.73],[33,-1.72],[33.5,-1.75],[34,-1.73],[34.25,-1.77],[34.75,-1.73],[35.75,-1.74],[36,-1.8],[36.25,-1.78],[36.5,-1.8],[37,-1.77],[36,-1.83],[37.25,-1.7],[37.75,-1.72],[38,-1.77],[37.75,-1.81],[38.75,-1.74],[39,-1.75],[39.5,-1.78],[40,-1.67],[40,-1.79],[40.5,-1.8],[41,-1.8],[41.5,-1.78],[40.25,-1.83],[40.5,-1.87],[40.75,-1.85],[41.25,-1.85],[41.5,-1.9],[42,-1.83],[42.25,-1.83],[42,-1.88],[42,-1.93],[42.5,-1.8],[42.75,-1.81],[43,-1.78],[43,-1.83],[43.5,-1.81],[43.75,-1.82],[44.25,-1.82],[43.75,-1.75],[44.5,-1.73],[44.5,-1.63],[44,-1.6],[45,-1.79],[45.25,-1.76],[45.5,-1.8],[45.75,-1.74],[45,-1.59],[45.25,-1.55],[44.5,-1.54],[43.5,-1.7],[41.5,-1.7],[40.75,-1.72],[42,-1.7],[42.5,-1.71],
[23.5,-.49],[29.25,-.66],[28.75,-.62],[28.75,-.71],[28.5,-.71],[27.5,-.71],[27.75,-.8],[28.25,-.83],[27.75,-.58]];

const decreasedRightEdge=[[67.5,-1.12],[60.75,-1.37],[59,-1.28],[56.75,-1.52],[57.25,-1.27],[57.25,-1.14],[56.5,-1.21],[55.5,-1.3],[55.25,-1.24],[58.5,-1.04],[57.5,-1.07],[57.5,-1.02],[57.25,-1.03],[58,-.91],[57,-.91],[57,-.92],[56.5,-.85],[57.75,-.81],[57.25,-.67],[58.5,-.67],[59.5,-.53],[55.75,-.88],[55.75,-.95],[56,-.97],[55.75,-.99],[54.5,-.91],[54.25,-.94],[53.75,-.97],[53.75,-.95],[54.25,-1.02],[54.5,-1.05],[54.5,-1.1],[54.75,-1.09],[54.75,-1.14],[54.5,-1.21],[54.25,-1.27],[54,-1.31],[54.5,-1.38],[54.75,-1.44],[54,-1.46],[53.25,-1.36],[53.25,-1.51],[53,-1.15],[53,-1.26],[52.5,-1.23],[54.25,-1.61],[53.5,-1.68],[54.5,-1.72],[52.25,-1.72],[52.5,-1.75],[51.75,-1.75],[51.5,-1.78],[52,-1.9],[52,-1.95],[50,-1.88],[50,-1.94],[50.5,-1.68],[50.5,-1.71],[50,-1.75],[49.75,-1.67],[49.25,-1.64],[48.75,-1.61],[48.25,-1.59],[47.75,-1.59],[50.25,-1.58],[51,-1.58],[51.75,-1.57],[51.25,-1.48],[51.75,-1.43],[50.75,-1.42],[50.5,-1.4],[50.75,-1.36],[52,-1.36],[52,-1.31],[51.75,-1.25],[52,-1.18],[52,-1.23],[52.25,-1.12],[50.75,-1.16],[51,-1.14],[51.25,-1.11],[51.5,-1.12],[51.75,-1.11],[52,-1.07],[52,-1.02],[51.75,-1.01],[51.5,-1.05],[51.25,-1.06],[51,-1.06],[50.75,-1.03],[51,-1],[50.75,-.99],[52.5,-1],[52.75,-1.03],[53,-1.04],[53.25,-1],[53.5,-1.05],[53.25,-1.06],[52.25,-.95],[52.5,-.97],[50.5,-1.11],[50,-1.1],[50.25,-1.16],[50.25,-1.21],[50,-1.23],[49.5,-1.24],[50,-1.31],[49.5,-1.29],[49.25,-1.34],[49.75,-1.35],[49.5,-1.39],[49,-1.41],[48.5,-1.4],[48.25,-1.36],[47.75,-1.35],[48.75,-1.32],[48,-1.3],[47.75,-1.27],[49.25,-1.48],[49.5,-1.49],[49,-1.53],[48.5,-1.49],[48,-1.48],[47.5,-1.51],[47,-1.54],[47.75,-1.55],[46,-1.53],[45.5,-1.56],[45,-1.59],[47.5,-1.64],[47,-1.64],[46.75,-1.69],[46.25,-1.74],[45.75,-1.74],[45.25,-1.77],[45,-1.79],[45.5,-1.81],[45.75,-1.8],[46.75,-1.77],[47.75,-1.79],[47.25,-1.81],[46.5,-1.85],[47.5,-1.86],[48.75,-1.85],[45.75,-1.97],[45.5,-2.2],[46.5,-2.09],[48,-2.1],[49,-2.04],[49.5,-2.09],[50.25,-2.07],[55,-2.03],
[54.25,-.6],[54,-.66],[55,-.55],[55.75,-.6],[54.5,-.7],[54.75,-.7],[54.5,-.73],[54.25,-.81],[54.75,-.82],[53.5,-.81],[53.5,-.87],[53.25,-.91],[52.75,-.82],[53,-.82],[52.5,-.87],[52.5,-.89],[52,-.73],[52.25,-.79],[52.25,-.73],[52.5,-.72],[52.75,-.75],[53,-.75],[51.5,-.9],[51,-.9],[51.75,-.78],[51.75,-.83],[51.25,-.81],[51,-.75],[50.75,-.82],[50.75,-.87],[50,-.81],[50.25,-.85],[49.5,-.81],[49,-.84],[49,-.91],[49.75,-.91],[49.25,-.9],[50.25,-.97],[50,-.97],[49.25,-1],[48.5,-.99],[48.25,-.98],[48.25,-1.03],[48.75,-1.07],[48.25,-1.08],[49.75,-1.05],[47.75,-.94],[47.75,-1.08],[49.25,-1.15],[49.5,-1.14],[49,-1.14],[48.5,-1.15],[48.25,-1.16],[47.75,-1.17],[48.75,-1.2],[48.25,-1.22],[52.25,-.64],[52.5,-.63],[51.5,-.66],[50.75,-.64],[54.25,-.53],[53,-.52],[52.5,-.57],[54.5,-.69],[54.75,-.69],[54.5,-.41],[54.5,-.42],[51.5,-.52],[50.5,-.54]];

/* lower blue fringe, by GC column */
const decreasedFringeGC=[30.5,31,31.5,32,32.5,33,33.5,34,34.5,35,35.5,36,36.5,37,37.5,38,38.5,39,39.5,40,40.5,41,41.5,42,42.5,43,43.5,44,44.5,45,45.5,46,46.5];
const decreasedFringeLogFC=[[-1.46,-1.54],[-1.5,-1.58],[-1.54,-1.6],[-1.58,-1.66,-1.52],[-1.6,-1.68],[-1.62,-1.7,-1.56],[-1.6,-1.68],[-1.64,-1.7,-1.58],[-1.66,-1.74],[-1.62,-1.7,-1.56],[-1.68,-1.76],[-1.7,-1.76,-1.62],[-1.68,-1.74],[-1.7,-1.78,-1.62],[-1.66,-1.72],[-1.68,-1.76,-1.6],[-1.66,-1.72],[-1.7,-1.76,-1.6],[-1.66,-1.72],[-1.7,-1.76,-1.62],[-1.68,-1.74],[-1.66,-1.72,-1.6],[-1.62,-1.68],[-1.62,-1.7,-1.56],[-1.64,-1.72],[-1.6,-1.68,-1.54],[-1.56,-1.64],[-1.5,-1.58],[-1.46,-1.56],[-1.46,-1.54],[-1.42,-1.5],[-1.4,-1.48],[-1.36,-1.46]];

/* grey and blue mixing zone, by GC column */
const unchangedOverBlueGC=[30,30.5,31,31.5,32,32.5,33,33.5,34,34.5,35,35.5,36,36.5,37,37.5,38,38.5,39,39.5,40,40.5,41,41.5,42,42.5,43,43.5,44,44.5,45,45.5,46,46.5,47,47.5,48];
const unchangedOverBlueLogFC=[[-.66,-.74],[-.7,-.78],[-.68,-.82],[-.72,-.76],[-.66,-.8],[-.7,-.76],[-.74,-.78],[-.68,-.8],[-.72,-.82],[-.66,-.76],[-.7,-.8],[-.74,-.8],[-.68,-.78],[-.72,-.76],[-.66,-.76],[-.7,-.8],[-.74,-.78],[-.68,-.82],[-.72,-.76],[-.66,-.8],[-.7,-.78],[-.74,-.78],[-.68,-.82],[-.72,-.76],[-.66,-.8],[-.7,-.76],[-.74,-.78],[-.68,-.82],[-.72,-.76],[-.66,-.8],[-.7,-.78],[-.74,-.78],[-.68,-.8],[-.66,-.76],[-.7,-.82],[-.74,-.8],[-.68,-.84]];
const unchangedOverBlue=[[30,-.66],[29.5,-.62],[30.75,-.71],[31.25,-.75],[31.5,-.67],[32.25,-.61],[32.75,-.67],[33.25,-.67],[35,-.7],[35.5,-.78],[36.5,-.72],[37,-.64],[37.75,-.57],[38.25,-.66],[39.25,-.67],[39.75,-.62],[40.5,-.73],[41,-.78],[41,-.65],[42,-.62],[43.25,-.66],[44.25,-.7],[44.75,-.58],[42.75,-.58],[40.25,-.59],[38.75,-.55],[36,-.58],[31.5,-.59],[47.25,-.72],[47.75,-.78],[48.75,-.72],[48.5,-.6],[49.5,-.62],[50,-.58],[49.25,-.55],[50.5,-.63],[51,-.68],[51.5,-.72],[29.25,-.84],[28.75,-.88],[41.25,-.88],[47,-.85]];

const decreasedOverGray=[[32.75,-.58],[34.25,-.63],[35.25,-.6],[33,-.72],[31.75,-.69],[29.25,-.66],[28.75,-.64],[28.75,-.68],[29.75,-.72],[36,-.68],[38.25,-.59],[39,-.67],[41.75,-.67],[43.75,-.59],[42.5,-.66],[45.75,-.65],[45,-.67],[40.5,-.67],[36.5,-.54],[42.25,-.54],[29.25,-.53],[30,-.49],[31.75,-.42],[32,-.53],[32.75,-.59],[34.25,-.62],[34.75,-.62],[36.5,-.52],[37.5,-.51],[38,-.47],[39,-.56],[39.5,-.41],[41,-.55],[43,-.5],[44.5,-.55],[46.5,-.52],[47.5,-.48],[46,-.43],[48,-.58],[47,-.6],
[30.5,-.56],[31,-.62],[31.25,-.68],[32.25,-.7],[33.5,-.56],[34,-.7],[34.75,-.68],[35.5,-.68],[35.75,-.56],[37,-.7],[37.25,-.58],[37.75,-.66],[38.75,-.7],[39.5,-.62],[40,-.7],[40.75,-.58],[41.25,-.7],[42,-.56],[42.75,-.7],[43.25,-.58],[44,-.68],[44.75,-.7],[45.25,-.58],[46.25,-.68],[46.75,-.62],[47.25,-.58],[47.75,-.68],[48.25,-.7],
[30.75,-.66],[32.5,-.64],[33.25,-.62],[34.5,-.6],[35,-.66],[36.25,-.62],[36.75,-.6],[38,-.64],[38.5,-.62],[39.25,-.6],[39.75,-.66],[40.25,-.62],[41.5,-.62],[42.25,-.64],[43.5,-.64],[44.25,-.6],[45.5,-.62],[46,-.62],[47,-.68],[48,-.66]];

/* ---------- scales ---------- */
const panelLeft=157.5, panelTop=189, panelRight=2515.5, panelBottom=2245;
function xScale(gc){return panelLeft+(gc-15.75)*42.9;}
function yScale(logFC){return 1307.5-logFC*276.25;}

const NS="http://www.w3.org/2000/svg";
const gridLayer=document.getElementById('grid');
const markLayer=document.getElementById('marks');
const overlayLayer=document.getElementById('overlay');
const axisLayer=document.getElementById('axes');

function build(tag,parent,attrs){
  const el=document.createElementNS(NS,tag);
  for(const k in attrs){el.setAttribute(k,attrs[k]);}
  parent.appendChild(el);
  return el;
}

/* ---------- grid ---------- */
xMinorTicks.forEach(function(v){
  const el=build('line',gridLayer,{x1:xScale(v),x2:xScale(v),y1:panelTop,y2:panelBottom,stroke:'#EBEBEB','stroke-width':2.1});
  
  
});
yMinorTicks.forEach(function(v){
  const el=build('line',gridLayer,{x1:panelLeft,x2:panelRight,y1:yScale(v),y2:yScale(v),stroke:'#EBEBEB','stroke-width':2.1});
  
  
});
xMajorTicks.forEach(function(v){
  const el=build('line',gridLayer,{x1:xScale(v),x2:xScale(v),y1:panelTop,y2:panelBottom,stroke:'#EBEBEB','stroke-width':4.2});
  
  
});
yMajorTicks.forEach(function(v){
  const el=build('line',gridLayer,{x1:panelLeft,x2:panelRight,y1:yScale(v),y2:yScale(v),stroke:'#EBEBEB','stroke-width':4.2});
  
  
});

/* ---------- marks ---------- */
function drawRun(g,top,bottom,color,name){
  const el=build('line',markLayer,{x1:xScale(g),x2:xScale(g),y1:yScale(top),y2:yScale(bottom),stroke:color,'stroke-width':17.6,'stroke-linecap':'round'});
  
  
}
function drawRuns(list,color,name){
  list.forEach(function(r){drawRun(r[0],r[1],r[2],color,name);});
}
function drawPoint(g,v,color,name){
  const el=build('circle',markLayer,{cx:xScale(g),cy:yScale(v),r:7.6,fill:color,'fill-opacity':.7,stroke:color,'stroke-opacity':.7,'stroke-width':2.6});
  
  
}
function drawPoints(list,color,name){
  list.forEach(function(p){drawPoint(p[0],p[1],color,name);});
}
function drawStacks(gcs,values,color,name){
  gcs.forEach(function(g,i){
    values[i].forEach(function(v){drawPoint(g,v,color,name);});
  });
}
const colUnchanged='#4D4D4D', colDecreased='#009ACD', colIncreased='#EE0000';

/* increased */
increasedBandGC.forEach(function(g,i){drawRun(g,increasedBandTop[i],increasedBandFloor[0],colIncreased,'increased-dense-band');});
drawRuns(increasedRuns,colIncreased,'increased-dense-run');
drawStacks(increasedStackGC,increasedStackLogFC,colIncreased,'increased-point');
drawStacks(increasedInfillGC,increasedInfillLogFC,colIncreased,'increased-point');
drawPoints(increasedUpperLeft,colIncreased,'increased-point');
drawPoints(increasedUpperRight,colIncreased,'increased-point');
drawPoints(increasedMidRight,colIncreased,'increased-point');
drawPoints(increasedLeftEdge,colIncreased,'increased-point');

/* unchanged */
unchangedBandGC.forEach(function(g,i){drawRun(g,unchangedBandTop[i],unchangedBandBottom[i],colUnchanged,'unchanged-dense-band');});
drawRuns(unchangedRuns,colUnchanged,'unchanged-dense-run');
drawPoints(unchangedLeftEdge,colUnchanged,'unchanged-point');
drawPoints(unchangedRightEdge,colUnchanged,'unchanged-point');
drawStacks(unchangedMixGC,unchangedMixLogFC,colUnchanged,'unchanged-point');
drawPoints(unchangedOverRed,colUnchanged,'unchanged-point');
drawPoints(increasedOverGray,colIncreased,'increased-point');

/* decreased */
decreasedBandGC.forEach(function(g,i){drawRun(g,decreasedBandCeiling[0],decreasedBandBottom[i],colDecreased,'decreased-dense-band');});
drawRuns(decreasedRuns,colDecreased,'decreased-dense-run');
drawStacks(decreasedFringeGC,decreasedFringeLogFC,colDecreased,'decreased-point');
drawPoints(decreasedLowerLeft,colDecreased,'decreased-point');
drawPoints(decreasedLeftEdge,colDecreased,'decreased-point');
drawPoints(decreasedRightEdge,colDecreased,'decreased-point');
drawStacks(unchangedOverBlueGC,unchangedOverBlueLogFC,colUnchanged,'unchanged-point');
drawPoints(unchangedOverBlue,colUnchanged,'unchanged-point');
drawPoints(decreasedOverGray,colDecreased,'decreased-point');

/* ---------- reference and trend lines ---------- */
const zeroLine=build('line',overlayLayer,{x1:panelLeft,x2:panelRight,y1:yScale(0),y2:yScale(0),stroke:'#000','stroke-width':4.2});



const smoothPath=build('path',overlayLayer,{d:smoothGC.map(function(g,i){return (i?'L':'M')+xScale(g).toFixed(1)+' '+yScale(smoothLogFC[i]).toFixed(1);}).join(' '),fill:'none',stroke:'#3366FF','stroke-width':8.3,'stroke-linejoin':'round'});



/* ---------- axes ---------- */
xMajorTicks.forEach(function(v,i){
  const t=build('line',axisLayer,{x1:xScale(v),x2:xScale(v),y1:panelBottom,y2:panelBottom+11.5,stroke:'#333333','stroke-width':4.2});
  
  
  const l=build('text',axisLayer,{x:xScale(v),y:2302,'font-size':46.67,'text-anchor':'middle',fill:'#4D4D4D'});
  l.textContent=xTickLabels[i];
  
  
});
yMajorTicks.forEach(function(v,i){
  const t=build('line',axisLayer,{x1:panelLeft-11.5,x2:panelLeft,y1:yScale(v),y2:yScale(v),stroke:'#333333','stroke-width':4.2});
  
  
  const l=build('text',axisLayer,{x:134,y:yScale(v)+17,'font-size':46.67,'text-anchor':'end',fill:'#4D4D4D'});
  l.textContent=yTickLabels[i];
  
  
});
</script>
</body>
</html>
